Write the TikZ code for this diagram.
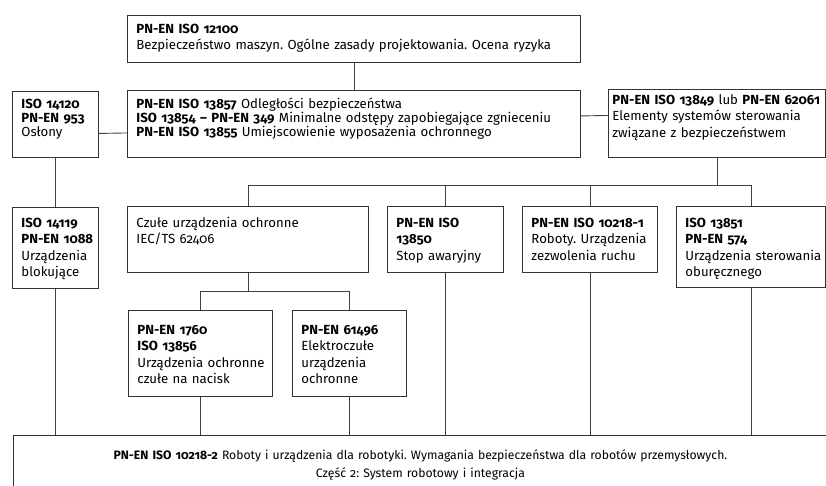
\documentclass[tikz,border=0pt]{standalone}
\usepackage{fontspec}
\setmainfont{Fira Sans}[Numbers=OldStyle]
\usepackage{tikz}
\usetikzlibrary{positioning}
\frenchspacing
\hyphenpenalty=10000
\exhyphenpenalty=10000

\begin{document}
\begin{tikzpicture}[
    x=1pt,y=-1pt,
    stdbox/.style={draw=black!80,line width=0.9pt,anchor=north west,align=left,inner xsep=9pt,inner ysep=6pt,font=\fontsize{13.2}{16.3}\selectfont},
    wh/.style n args={3}{text width=#1pt-18pt,text height=#3pt-6pt,text depth=#2pt-#3pt-6pt},
    link/.style={draw=black!75,line width=0.9pt}
]
\useasboundingbox (0,0) rectangle (826,486);
\clip (0,0) rectangle (826,486);
\fill[white] (0,0) rectangle (826,486);

\node[stdbox,wh={453}{47}{18}] (b12100) at (127,15) {\textbf{PN-EN ISO 12100}\\Bezpieczeństwo maszyn. Ogólne zasady projektowania. Ocena ryzyka};
\node[stdbox,wh={453}{67}{18},font=\fontsize{13.2}{14}\selectfont] (b13857) at (127,90) {\textbf{PN-EN ISO 13857} Odległości bezpieczeństwa\\\textbf{ISO 13854 – PN-EN 349} Minimalne odstępy zapobiegające zgnieceniu\\\textbf{PN-EN ISO 13855} Umiejscowienie wyposażenia ochronnego};
\node[stdbox,wh={86}{66}{17},font=\fontsize{13.2}{14}\selectfont] (b14120) at (12,91) {\textbf{ISO~14120}\\\textbf{PN-EN~953}\\Osłony};
\node[stdbox,wh={217}{68}{15},inner xsep=4pt,text width=209pt] (b13849) at (608,89) {\textbf{PN-EN~ISO~13849}~lub~\textbf{PN-EN~62061}\\Elementy systemów sterowania\\związane z bezpieczeństwem};

\node[stdbox,wh={86}{81}{20}] (b14119) at (12,207) {\textbf{ISO~14119}\\\textbf{PN-EN~1088}\\Urządzenia\\blokujące};
\node[stdbox,wh={241}{66}{21}] (bczule) at (127,206) {Czułe urządzenia ochronne\\IEC/TS 62406};
\node[stdbox,wh={116}{66}{21}] (b13850) at (387,206) {\textbf{PN-EN ISO}\\\textbf{13850}\\Stop~awaryjny};
\node[stdbox,wh={135}{66}{21}] (b10218) at (522,206) {\textbf{PN-EN~ISO~10218-1}\\Roboty.~Urządzenia\\zezwolenia ruchu};
\node[stdbox,wh={149}{81}{21}] (b13851) at (676,206) {\textbf{ISO 13851}\\\textbf{PN-EN 574}\\Urządzenia~sterowania\\oburęcznego};

\node[stdbox,wh={144}{86}{24}] (b1760) at (128,310) {\textbf{PN-EN 1760}\\\textbf{ISO 13856}\\Urządzenia~ochronne\\czułe na nacisk};
\node[stdbox,wh={114}{86}{24}] (b61496) at (292,310) {\textbf{PN-EN 61496}\\Elektroczułe\\urządzenia\\ochronne};

\node[stdbox,wh={814}{80}{24},align=center,font=\fontsize{12.2}{18}\selectfont] (b10218two) at (13,435) {\textbf{PN-EN ISO 10218-2} Roboty i urządzenia dla robotyki. Wymagania bezpieczeństwa dla robotów przemysłowych.\\Część 2: System robotowy i integracja};

% bus lines
\coordinate (busy) at (0,185);
\coordinate (subbus) at (0,291);

\draw[link] (b12100) -- (b13857);
\draw[link] ([yshift=-9pt]b14120.east) -- ([yshift=-9pt]b13857.west);
\draw[link] ([yshift=8pt]b13857.east) -- ([yshift=8pt]b13849.west);
\draw[link] (b14120) -- (b14119);

\draw[link] (b13849.south) -- (b13849.south |- busy);
\draw[link] (bczule.north) |- (b13851.north |- busy) -- (b13851.north);
\foreach \b in {b13850,b10218}
    \draw[link] (\b.north) -- (\b.north |- busy);

\draw[link] (bczule.south) -- (bczule.south |- subbus);
\draw[link] (b1760.north) |- (b61496.north |- subbus) -- (b61496.north);

\foreach \b in {b14119,b1760,b61496,b13850,b10218,b13851}
    \draw[link] (\b.south) -- (\b.south |- b10218two.north);
\end{tikzpicture}
\end{document}
